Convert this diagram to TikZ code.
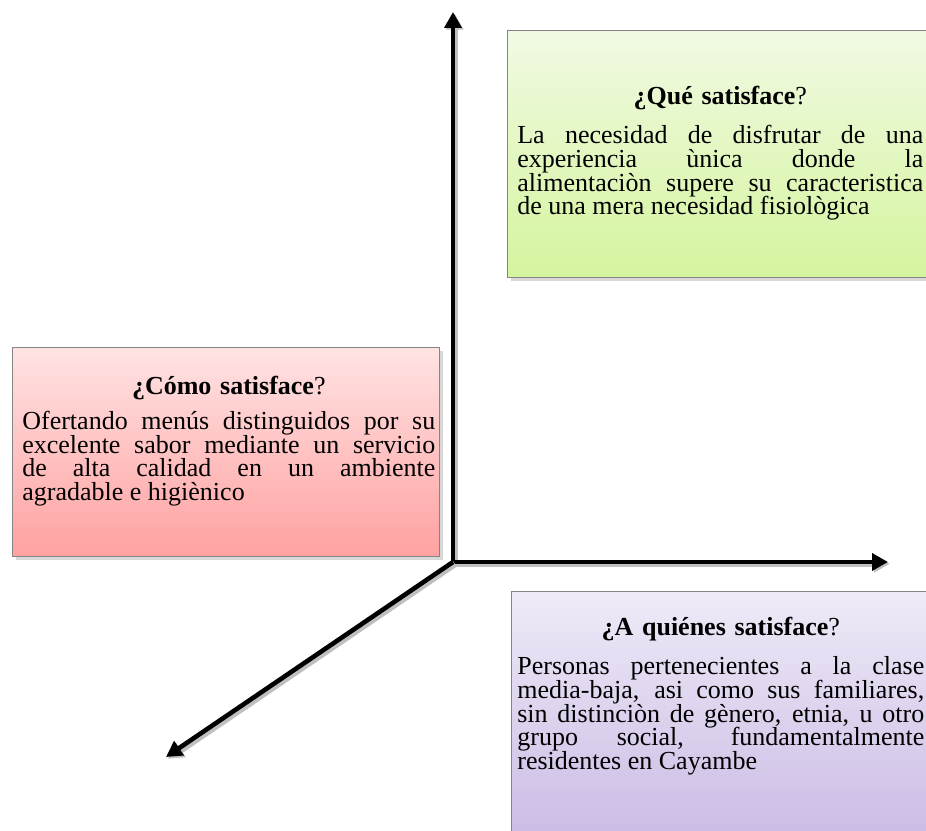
\documentclass[tikz,border=0pt]{standalone}
\usepackage{fontspec}
\setmainfont{Liberation Serif}
\usetikzlibrary{arrows.meta,shadows}
\usepackage{xcolor}
\definecolor{queTop}{HTML}{F1FAE3}
\definecolor{queBot}{HTML}{D4F49E}
\definecolor{comoTop}{HTML}{FFE3E3}
\definecolor{comoBot}{HTML}{FFA1A1}
\definecolor{quienTop}{HTML}{EFEAF7}
\definecolor{quienBot}{HTML}{C9B9E4}
\definecolor{panelGray}{HTML}{858585}
% justified line, last line, centred title line
\newcommand{\jline}[1]{{\spaceskip=0pt\xspaceskip=0pt\makebox[\linewidth][s]{#1}}}
\newcommand{\lline}[1]{{\spaceskip=0pt\xspaceskip=0pt\makebox[\linewidth][l]{#1}}}
\newcommand{\titulo}[1]{\makebox[\linewidth]{\rule{0pt}{14pt}#1}}
\newcommand{\bodyfont}{\fontsize{14.8pt}{13.4pt}\selectfont\lineskiplimit=-10pt\relax}

\begin{document}
\begin{tikzpicture}[x=0.02cm,y=0.02cm]
\tikzstyle{panel} = [rectangle, draw=panelGray, line width=0.6pt, anchor=north west,
inner sep=0pt, drop shadow={shadow xshift=2pt, shadow yshift=-2pt, opacity=0.3}]
\tikzstyle{body} = [anchor=north west, inner sep=0pt, text width=8.12cm, align=left,
font=\bodyfont]
\tikzstyle{axis} = [line width=2.6pt, line join=miter,
preaction={draw, black!25, line width=4pt, transform canvas={xshift=1pt,yshift=-1pt}},
{Triangle[length=9pt,width=9.5pt]}-{Triangle[length=9pt,width=9.5pt]}]
\tikzstyle{axis_z} = [line width=2.6pt,
preaction={draw, black!25, line width=4pt, transform canvas={xshift=1pt,yshift=-1pt}},
-{Triangle[length=9pt,width=9.5pt]}]

\useasboundingbox (0,0) rectangle (926,831);
\clip (0,0) rectangle (926,831);
\fill[white] (0,0) rectangle (926,831);

% boxes
\node[panel, top color=queTop, bottom color=queBot,
minimum width=8.6cm, minimum height=4.94cm] (quebox) at (507,801) {};
\node[panel, top color=comoTop, bottom color=comoBot,
minimum width=8.54cm, minimum height=4.18cm] (comobox) at (12,484) {};
\node[panel, top color=quienTop, bottom color=quienBot,
minimum width=8.6cm, minimum height=5.2cm] (quienbox) at (511,240) {};

% texts
\node[body] (que) at (517,751) {\titulo{\textbf{¿Qué satisface}?}\\[8.8pt]
\jline{La necesidad de disfrutar de una}\\
\jline{experiencia ùnica donde la}\\
\jline{alimentaciòn supere su caracteristica}\\
\lline{de una mera necesidad fisiològica}};
\node[body, text width=8.26cm] (como) at (22,461) {\titulo{\textbf{¿Cómo satisface}?}\\[6.5pt]
\jline{Ofertando menús distinguidos por su}\\
\jline{excelente sabor mediante un servicio}\\
\jline{de alta calidad en un ambiente}\\
\lline{agradable e higiènico}};
\node[body, text width=8.14cm] (quien) at (517,220) {\titulo{\textbf{¿A quiénes satisface}?}\\[8.8pt]
\jline{Personas pertenecientes a la clase}\\
\jline{media-baja, asi como sus familiares,}\\
\jline{sin distinciòn de gènero, etnia, u otro}\\
\jline{grupo social, fundamentalmente}\\
\lline{residentes en Cayambe}};

% axes
\coordinate (origin) at (453,269);
\coordinate (ytip) at (453,819);
\coordinate (xtip) at (888,269);
\coordinate (ztip) at (166,74);
\draw[axis] (ytip) -- (origin) -- (xtip);
\draw[axis_z] (origin) -- (ztip);

\end{tikzpicture}
\end{document}
